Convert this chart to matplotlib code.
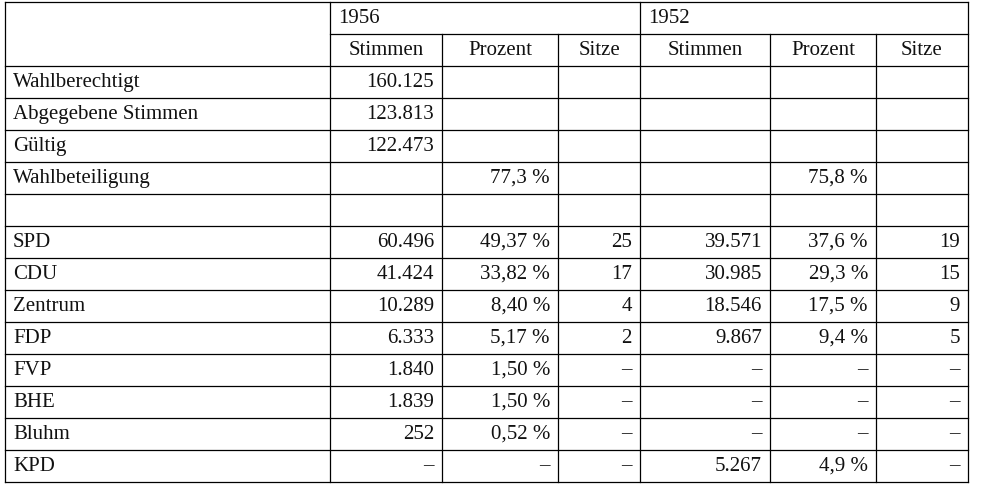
import matplotlib.pyplot as plt

# Table data
years = ["1956", "1952"]
subheads = ["Stimmen", "Prozent", "Sitze"]
row_labels = ["Wahlberechtigt", "Abgegebene Stimmen", "Gültig", "Wahlbeteiligung", "",
              "SPD", "CDU", "Zentrum", "FDP", "FVP", "BHE", "Bluhm", "KPD"]
stimmen_56 = ["160.125", "123.813", "122.473", "", "", "60.496", "41.424", "10.289", "6.333",
              "1.840", "1.839", "252", "–"]
prozent_56 = ["", "", "", "77,3 %", "", "49,37 %", "33,82 %", "8,40 %", "5,17 %",
              "1,50 %", "1,50 %", "0,52 %", "–"]
sitze_56 = ["", "", "", "", "", "25", "17", "4", "2", "–", "–", "–", "–"]
stimmen_52 = ["", "", "", "", "", "39.571", "30.985", "18.546", "9.867", "–", "–", "–", "5.267"]
prozent_52 = ["", "", "", "75,8 %", "", "37,6 %", "29,3 %", "17,5 %", "9,4 %", "–", "–", "–", "4,9 %"]
sitze_52 = ["", "", "", "", "", "19", "15", "9", "5", "–", "–", "–", "–"]

# Geometry (pixels)
col_x = [5, 330, 442, 558, 640, 770, 876, 968]
top, row_h = 2, 32.0
n_rows = 2 + len(row_labels)
row_y = [top + i * row_h for i in range(n_rows + 1)]

fig = plt.figure(figsize=(9.86, 4.98), dpi=100)
ax = fig.add_axes([0, 0, 1, 1])
ax.set_xlim(0, 986)
ax.set_ylim(498, 0)
ax.axis("off")

lw = 0.9
font = dict(family="Liberation Serif", fontsize=15, color="#111111")

# horizontal lines
for i, y in enumerate(row_y):
    x0 = col_x[0] if i != 1 else col_x[1]
    ax.plot([x0, col_x[-1]], [y, y], color="black", lw=lw)
# vertical lines
for j, x in enumerate(col_x):
    if j in (2, 3, 5, 6):
        ax.plot([x, x], [row_y[1], row_y[-1]], color="black", lw=lw)
    else:
        ax.plot([x, x], [row_y[0], row_y[-1]], color="black", lw=lw)

pad = 8
# year headers
for k, yr in enumerate(years):
    ax.text(col_x[1 + 3 * k] + pad, (row_y[0] + row_y[1]) / 2, yr, ha="left", va="center", **font)
# sub headers
for k in range(2):
    for m, s in enumerate(subheads):
        c = 1 + 3 * k + m
        ax.text((col_x[c] + col_x[c + 1]) / 2, (row_y[1] + row_y[2]) / 2, s,
                ha="center", va="center", **font)

cols = [stimmen_56, prozent_56, sitze_56, stimmen_52, prozent_52, sitze_52]
for r, lab in enumerate(row_labels):
    yc = (row_y[r + 2] + row_y[r + 3]) / 2
    ax.text(col_x[0] + pad, yc, lab, ha="left", va="center", **font)
    for c, vals in enumerate(cols):
        ax.text(col_x[c + 2] - pad, yc, vals[r], ha="right", va="center", **font)

fig.savefig("out.png", dpi=100)
